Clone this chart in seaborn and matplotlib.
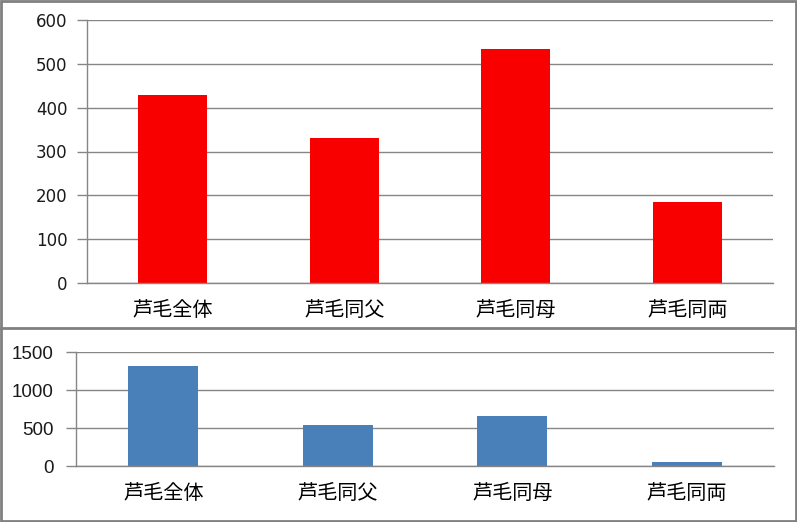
import matplotlib
matplotlib.use('Agg')
import matplotlib.pyplot as plt
import seaborn as sns
import pandas as pd
from matplotlib.patches import Rectangle
from matplotlib.lines import Line2D

# data
categories = ['芦毛全体', '芦毛同父', '芦毛同母', '芦毛同両']
top_values = [429, 331, 534, 185]
bottom_values = [1320, 543, 662, 57]
top_ticks = [0, 100, 200, 300, 400, 500, 600]
bottom_ticks = [0, 500, 1000, 1500]

sns.set_style('white')
plt.rcParams['font.family'] = ['Noto Sans CJK JP', 'DejaVu Sans']

W, H = 797, 522
fig = plt.figure(figsize=(W / 100, H / 100), dpi=100)

grey = '#868686'


def style_axis(ax, ticks, num_font, num_size, ypad, xpad):
    ax.set_xlim(-0.5, 3.5)
    ax.set_ylim(ticks[0], ticks[-1])
    ax.set_yticks(ticks)
    ax.set_yticklabels([str(t) for t in ticks], family=num_font, fontsize=num_size, color='#1a1a1a')
    ax.set_xticks(range(len(categories)))
    ax.set_xticklabels(categories, fontsize=14.5, color='black')
    ax.set_xticks([i - 0.5 for i in range(len(categories) + 1)], minor=True)
    ax.tick_params(axis='x', which='major', length=0, pad=xpad)
    ax.tick_params(axis='x', which='minor', length=6, color=grey, width=1, direction='out')
    ax.tick_params(axis='y', length=7, color=grey, width=1, direction='out', pad=ypad, left=True)
    ax.yaxis.grid(True, color=grey, linewidth=1)
    ax.set_axisbelow(True)
    for side in ['top', 'right']:
        ax.spines[side].set_visible(False)
    for side in ['left', 'bottom']:
        ax.spines[side].set_color(grey)
        ax.spines[side].set_linewidth(1)
    ax.set_xlabel('')
    ax.set_ylabel('')


# ---- top panel ----
ax1 = fig.add_axes([87 / W, (H - 283) / H, 686 / W, 263 / H])
df_top = pd.DataFrame({'cat': categories, 'val': top_values})
sns.barplot(data=df_top, x='cat', y='val', color='#F80000', saturation=1, width=0.4,
            linewidth=0, ax=ax1)
style_axis(ax1, top_ticks, 'DejaVu Sans', 12, 7, 12)

# ---- bottom panel ----
ax2 = fig.add_axes([76 / W, (H - 466.3) / H, 698 / W, 114 / H])
df_bot = pd.DataFrame({'cat': categories, 'val': bottom_values})
sns.barplot(data=df_bot, x='cat', y='val', color='#4A80B9', saturation=1, width=0.4,
            linewidth=0, ax=ax2)
style_axis(ax2, bottom_ticks, 'Liberation Sans', 13.5, 9, 12)

# chart frames
fig.add_artist(Rectangle((1 / W, 1 / H), (W - 2) / W, (H - 2) / H, transform=fig.transFigure,
                         fill=False, edgecolor='#808080', linewidth=2))
fig.add_artist(Line2D([0, 1], [(H - 328) / H, (H - 328) / H], transform=fig.transFigure,
                      color='#808080', linewidth=2))

plt.savefig('out.png', dpi=100)
plt.close()
